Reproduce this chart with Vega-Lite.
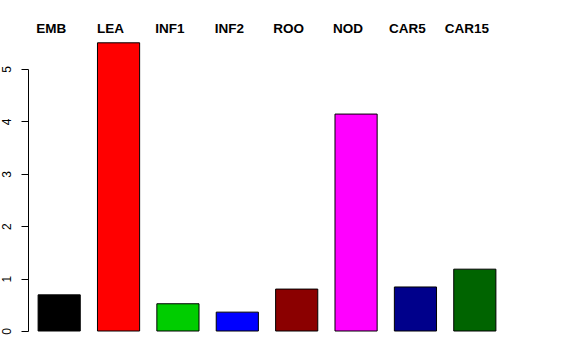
{
  "$schema": "https://vega.github.io/schema/vega-lite/v6.json",
  "width": 478,
  "height": 262,
  "autosize": {"type": "none"},
  "padding": {"left": 28, "top": 69, "right": 70, "bottom": 29},
  "background": "white",
  "config": {"view": {"stroke": null}, "font": "Liberation Sans"},
  "data": {"values": [
    {"tissue": "EMB", "value": 0.69, "color": "#000000"},
    {"tissue": "LEA", "value": 5.5, "color": "#FF0000"},
    {"tissue": "INF1", "value": 0.52, "color": "#00CD00"},
    {"tissue": "INF2", "value": 0.36, "color": "#0000FF"},
    {"tissue": "ROO", "value": 0.80, "color": "#8B0000"},
    {"tissue": "NOD", "value": 4.14, "color": "#FF00FF"},
    {"tissue": "CAR5", "value": 0.84, "color": "#00008B"},
    {"tissue": "CAR15", "value": 1.18, "color": "#006400"}
  ]},
  "mark": {"type": "bar", "stroke": "#000000", "strokeWidth": 1},
  "encoding": {
    "x": {
      "field": "tissue", "type": "nominal", "sort": null,
      "scale": {"paddingInner": 0.29, "paddingOuter": 0.17},
      "axis": {"orient": "top", "title": null, "domain": false, "ticks": false,
               "labelAngle": 0, "labelFontWeight": "bold", "labelFontSize": 13.5,
               "labelColor": "#000000", "labelPadding": 34, "labelOffset": -8,
               "labelBaseline": "bottom"}
    },
    "y": {
      "field": "value", "type": "quantitative",
      "scale": {"domain": [0, 5], "nice": false, "zero": true},
      "axis": {"title": null, "grid": false, "values": [0, 1, 2, 3, 4, 5],
               "domainColor": "#000000", "tickColor": "#000000", "tickSize": 7,
               "labelAngle": -90, "labelAlign": "center", "labelBaseline": "bottom",
               "labelPadding": 8, "labelFontSize": 12, "labelColor": "#000000"}
    },
    "color": {"field": "color", "type": "nominal", "scale": null, "legend": null}
  }
}
